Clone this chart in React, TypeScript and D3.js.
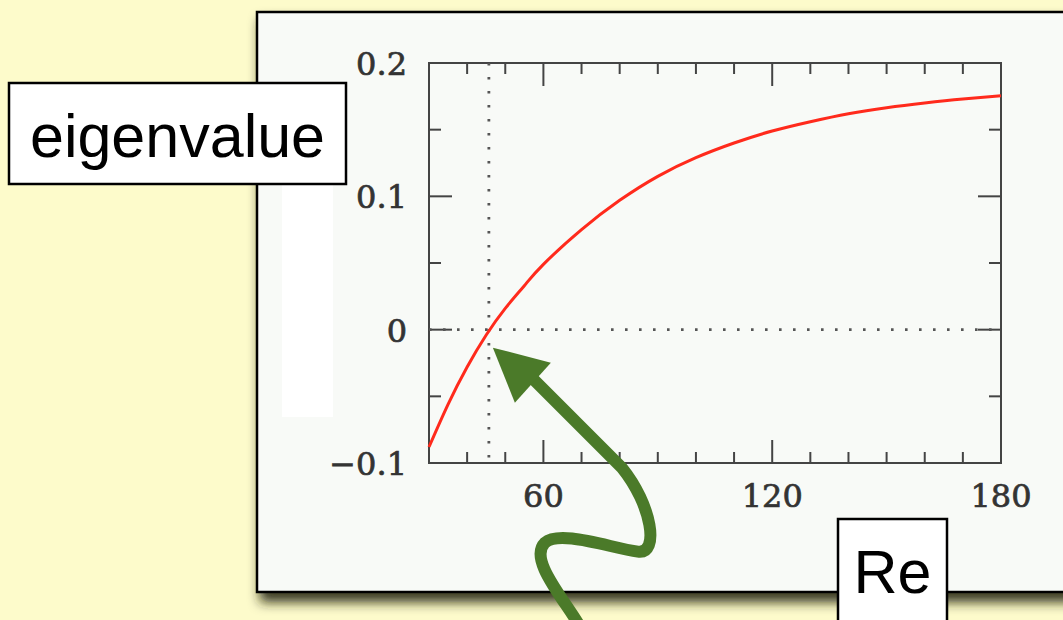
import { useEffect, useRef } from 'react'
import * as d3 from 'd3'

// Reynolds number grid and the leading eigenvalue
const reValues = [30, 35, 40, 45, 50, 55, 60, 70, 80, 90, 100, 110, 120, 130, 140, 150, 160, 170, 180]
const eigenValues = [
  -0.088, -0.056, -0.028, -0.004, 0.016, 0.033, 0.049, 0.075, 0.097, 0.115, 0.129, 0.14, 0.149,
  0.156, 0.162, 0.1665, 0.17, 0.173, 0.1755,
]
const criticalRe = 45.7

const xMajorTicks = [60, 120, 180]
const xMinorTicks = [40, 50, 70, 80, 90, 100, 110, 130, 140, 150, 160, 170]
const yMajorTicks = [-0.1, 0, 0.1, 0.2]
const yMinorTicks = [-0.05, 0.05, 0.15]
const yTickLabels = ['\u22120.1', '0', '0.1', '0.2']

const App = () => {
  const svgRef = useRef<SVGSVGElement>(null)

  useEffect(() => {
    const svg = d3.select(svgRef.current)
    svg.selectAll('*').remove()

    const width = 1063
    const height = 620
    const plot = { left: 429, right: 1001, top: 63, bottom: 463 }

    const x = d3.scaleLinear().domain([30, 180]).range([plot.left, plot.right])
    const y = d3.scaleLinear().domain([-0.1, 0.2]).range([plot.bottom, plot.top])

    // background
    svg.append('rect').attr('width', width).attr('height', height).attr('fill', '#fdfbcb')

    const defs = svg.append('defs')
    const shadow = defs.append('filter').attr('id', 'cardShadow').attr('x', '-10%').attr('y', '-10%').attr('width', '130%').attr('height', '130%')
    shadow
      .append('feDropShadow')
      .attr('dx', 4)
      .attr('dy', 9)
      .attr('stdDeviation', 6)
      .attr('flood-color', '#23230a')
      .attr('flood-opacity', 0.9)

    // slide card
    svg
      .append('rect')
      .attr('x', 257)
      .attr('y', 12)
      .attr('width', 900)
      .attr('height', 580)
      .attr('fill', '#f8faf7')
      .attr('stroke', '#000')
      .attr('stroke-width', 2.5)
      .attr('filter', 'url(#cardShadow)')

    // erased patch where the y label used to be
    svg.append('rect').attr('x', 282).attr('y', 185).attr('width', 51).attr('height', 232).attr('fill', '#ffffff')

    const g = svg.append('g')
    const axisColor = '#444'

    // frame
    g.append('rect')
      .attr('x', plot.left)
      .attr('y', plot.top)
      .attr('width', plot.right - plot.left)
      .attr('height', plot.bottom - plot.top)
      .attr('fill', 'none')
      .attr('stroke', axisColor)
      .attr('stroke-width', 2)

    // x ticks, bottom and top
    const xTicks = [
      ...xMajorTicks.map((v) => ({ v, len: 23 })),
      ...xMinorTicks.map((v) => ({ v, len: 11 })),
    ]
    g.selectAll('line.xb')
      .data(xTicks)
      .enter()
      .append('line')
      .attr('x1', (d) => x(d.v))
      .attr('x2', (d) => x(d.v))
      .attr('y1', plot.bottom)
      .attr('y2', (d) => plot.bottom - d.len)
      .attr('stroke', axisColor)
      .attr('stroke-width', 2)
    g.selectAll('line.xt')
      .data(xTicks)
      .enter()
      .append('line')
      .attr('x1', (d) => x(d.v))
      .attr('x2', (d) => x(d.v))
      .attr('y1', plot.top)
      .attr('y2', (d) => plot.top + d.len)
      .attr('stroke', axisColor)
      .attr('stroke-width', 2)

    // y ticks, left and right
    const yTicks = [
      ...yMajorTicks.map((v) => ({ v, len: 23 })),
      ...yMinorTicks.map((v) => ({ v, len: 12 })),
    ]
    g.selectAll('line.yl')
      .data(yTicks)
      .enter()
      .append('line')
      .attr('x1', plot.left)
      .attr('x2', (d) => plot.left + d.len)
      .attr('y1', (d) => y(d.v))
      .attr('y2', (d) => y(d.v))
      .attr('stroke', axisColor)
      .attr('stroke-width', 2)
    g.selectAll('line.yr')
      .data(yTicks)
      .enter()
      .append('line')
      .attr('x1', plot.right)
      .attr('x2', (d) => plot.right - d.len)
      .attr('y1', (d) => y(d.v))
      .attr('y2', (d) => y(d.v))
      .attr('stroke', axisColor)
      .attr('stroke-width', 2)

    // tick labels
    const labelFont = '"DejaVu Serif", serif'
    g.selectAll('text.xl')
      .data(xMajorTicks)
      .enter()
      .append('text')
      .attr('x', (d) => x(d))
      .attr('y', 507)
      .attr('text-anchor', 'middle')
      .attr('font-family', labelFont)
      .attr('font-size', 32)
      .attr('fill', '#333')
      .attr('stroke', '#333')
      .attr('stroke-width', 0.7)
      .text((d) => d)
    g.selectAll('text.yl')
      .data(yMajorTicks)
      .enter()
      .append('text')
      .attr('x', 407)
      .attr('y', (d) => y(d) + 12)
      .attr('text-anchor', 'end')
      .attr('font-family', labelFont)
      .attr('font-size', 32)
      .attr('fill', '#333')
      .attr('stroke', '#333')
      .attr('stroke-width', 0.7)
      .text((d, i) => yTickLabels[i])

    // dotted reference lines
    g.append('line')
      .attr('x1', x(criticalRe))
      .attr('x2', x(criticalRe))
      .attr('y1', plot.top)
      .attr('y2', plot.bottom)
      .attr('stroke', '#555')
      .attr('stroke-width', 2.8)
      .style('stroke-dasharray', '2.6, 11.4')
    g.append('line')
      .attr('x1', plot.left)
      .attr('x2', plot.right)
      .attr('y1', y(0))
      .attr('y2', y(0))
      .attr('stroke', '#555')
      .attr('stroke-width', 2.8)
      .style('stroke-dasharray', '2.6, 11.4')

    // eigenvalue curve
    const line = d3
      .line<number>()
      .x((d, i) => x(reValues[i]))
      .y((d) => y(d))
      .curve(d3.curveNatural)
    g.append('path')
      .attr('d', line(eigenValues))
      .attr('fill', 'none')
      .attr('stroke', '#ff2a1c')
      .attr('stroke-width', 3)

    // green squiggly arrow pointing at the crossing
    const tx = x(criticalRe) + 4
    const ty = y(0) + 18
    const arrow = d3.path()
    arrow.moveTo(tx + 89, ty + 282)
    arrow.bezierCurveTo(tx + 72, ty + 252, tx + 35, ty + 212, tx + 52, ty + 195)
    arrow.bezierCurveTo(tx + 67, ty + 182, tx + 117, ty + 200, tx + 145, ty + 204)
    arrow.bezierCurveTo(tx + 167, ty + 207, tx + 159, ty + 157, tx + 129, ty + 120)
    arrow.lineTo(tx + 35, ty + 26)
    svg
      .append('path')
      .attr('d', arrow.toString())
      .attr('fill', 'none')
      .attr('stroke', '#4b7a29')
      .attr('stroke-width', 12)
    svg
      .append('polygon')
      .attr('points', [
        [tx, ty],
        [tx + 58, ty + 15],
        [tx + 22, ty + 55],
      ].map((p) => p.join(',')).join(' '))
      .attr('fill', '#4b7a29')

    // label boxes
    const boxFont = '"Liberation Sans", Arial, sans-serif'
    const boxes = [
      { text: 'eigenvalue', x: 9, y: 83, w: 337, h: 101, base: 157 },
      { text: 'Re', x: 838, y: 519, w: 109, h: 110, base: 593 },
    ]
    const bg = svg.selectAll('g.box').data(boxes).enter().append('g')
    bg.append('rect')
      .attr('x', (d) => d.x)
      .attr('y', (d) => d.y)
      .attr('width', (d) => d.w)
      .attr('height', (d) => d.h)
      .attr('fill', '#fff')
      .attr('stroke', '#000')
      .attr('stroke-width', 2.5)
    bg.append('text')
      .attr('x', (d) => d.x + d.w / 2)
      .attr('y', (d) => d.base)
      .attr('text-anchor', 'middle')
      .attr('font-family', boxFont)
      .attr('font-size', 61)
      .attr('fill', '#000')
      .text((d) => d.text)
  }, [])

  return (
    <svg
      ref={svgRef}
      width={1063}
      height={620}
      style={{ position: 'fixed', left: 0, top: 0, display: 'block' }}
    ></svg>
  )
}

export default App
